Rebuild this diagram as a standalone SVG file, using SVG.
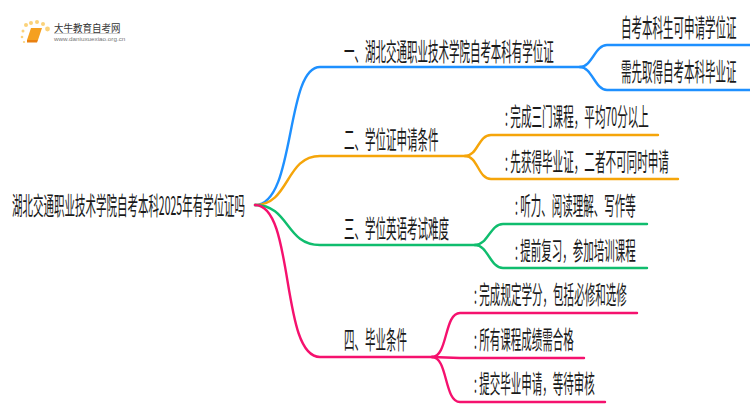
<svg xmlns="http://www.w3.org/2000/svg" width="750" height="410" viewBox="0 0 750 410">
<style>
text{font-family:"Noto Sans CJK SC","Liberation Sans",sans-serif;fill:#1a1a1a;font-size:25px}
.c{fill:none;stroke-width:2.4;stroke-linecap:round}
.b{stroke:#1e90ff}.o{stroke:#f5a50a}.g{stroke:#10bd6e}.p{stroke:#f5116e}
.t1{font-size:10px;fill:#333}.t2{font-size:6px;fill:#777;font-family:"Liberation Sans",sans-serif}
</style>
<rect width="750" height="410" fill="#fff"/>
<g id="logo">
<g fill="#fbd27a"><circle cx="26" cy="25" r="2"/><circle cx="31" cy="23" r="2"/><circle cx="37" cy="22" r="2"/><circle cx="43" cy="24" r="2"/><circle cx="47.500" cy="29" r="2.400"/><circle cx="23" cy="31" r="1.500"/><circle cx="22" cy="37" r="1.300"/><circle cx="24" cy="42" r="1.100"/></g>
<path d="M31 28H42L38 40H27Z" fill="#f5a020"/><path d="M27 40H38L37 42.500H27Z" fill="#e98010"/>
<path d="M54 33.500H120" stroke="#ccc" stroke-width="1" fill="none"/>
<text class="t1" transform="translate(54 31.500) scale(.95 1)">大牛教育自考网</text>
<text class="t2" transform="translate(54 41) scale(1.050 1)">www.daniuxuexiao.org.cn</text>
</g>
<g id="connectors">
<path class="c b" d="M255 205C296 205 285 67 320 67H580"/>
<path class="c b" d="M580 67C592 67 595 45 607 45H750"/>
<path class="c b" d="M580 67C592 67 595 90 607 90H750"/>
<path class="c o" d="M255 205C290 205 285 156 320 156H465"/>
<path class="c o" d="M465 156C478 156 478 135 491 135H658"/>
<path class="c o" d="M465 156C478 156 478 179 491 179H678"/>
<path class="c g" d="M255 205C290 205 285 245 320 245H475"/>
<path class="c g" d="M475 245C488 245 490 224 503 224H647"/>
<path class="c g" d="M475 245C488 245 490 268 503 268H647"/>
<path class="c p" d="M255 205C295 205 280 357 320 357H432"/>
<path class="c p" d="M432 357C448 357 444 313 460 313H637"/>
<path class="c p" d="M432 357L460 358H584"/>
<path class="c p" d="M432 357C448 357 444 402 460 402H605"/>
</g>
<g id="root"><text transform="translate(12 214.500) scale(.42 1)">湖北交通职业技术学院自考本科2025年有学位证吗</text></g>
<g id="n1"><text transform="translate(344 60.500) scale(.42 1)">一、湖北交通职业技术学院自考本科有学位证</text></g>
<g id="n11"><text transform="translate(621 37) scale(.42 1)">自考本科生可申请学位证</text></g>
<g id="n12"><text transform="translate(621 81) scale(.42 1)">需先取得自考本科毕业证</text></g>
<g id="n2"><text transform="translate(344 149) scale(.42 1)">二、学位证申请条件</text></g>
<g id="n21"><text transform="translate(505 126) scale(.423 1)">: 完成三门课程，平均70分以上</text></g>
<g id="n22"><text transform="translate(505 171) scale(.423 1)">: 先获得毕业证，二者不可同时申请</text></g>
<g id="n3"><text transform="translate(344 238) scale(.42 1)">三、学位英语考试难度</text></g>
<g id="n31"><text transform="translate(515 215) scale(.42 1)">: 听力、阅读理解、写作等</text></g>
<g id="n32"><text transform="translate(515 260) scale(.42 1)">: 提前复习，参加培训课程</text></g>
<g id="n4"><text transform="translate(344 349) scale(.42 1)">四、毕业条件</text></g>
<g id="n41"><text transform="translate(474 304) scale(.422 1)">: 完成规定学分，包括必修和选修</text></g>
<g id="n42"><text transform="translate(474 349) scale(.42 1)">: 所有课程成绩需合格</text></g>
<g id="n43"><text transform="translate(474 393) scale(.42 1)">: 提交毕业申请，等待审核</text></g>
</svg>
